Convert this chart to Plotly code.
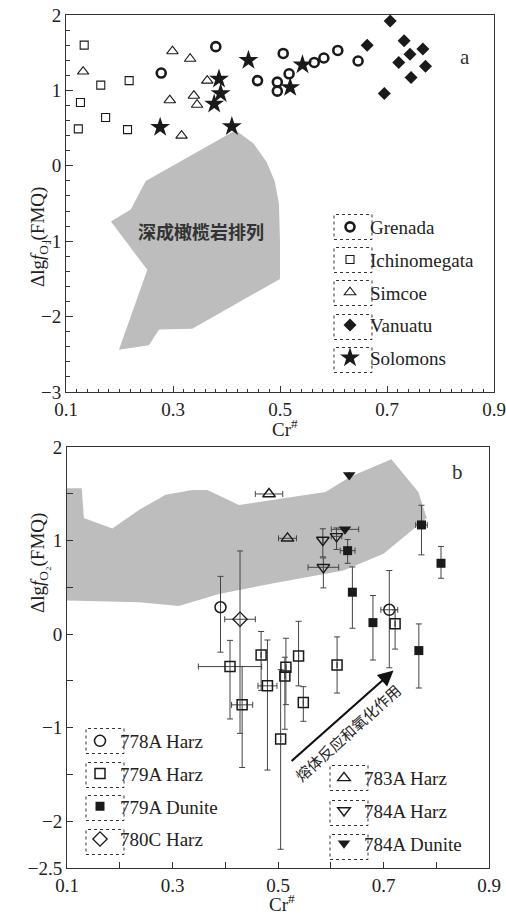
import numpy as np
import plotly.graph_objects as go

W, H = 506, 917
SERIF = "Liberation Serif, Times New Roman, serif"
CJK = "Noto Sans CJK SC"
GRAY = "#bdbdbd"
INK = "#1a1a1a"
ERR = "#444444"

# ---------------- Panel a data ----------------
grenada_cr = [0.380, 0.278, 0.458, 0.495, 0.495, 0.517, 0.506, 0.564, 0.582, 0.608, 0.646]
grenada_fo2 = [1.58, 1.23, 1.13, 1.11, 0.99, 1.22, 1.49, 1.37, 1.43, 1.53, 1.39]
ichi_cr = [0.134, 0.165, 0.218, 0.127, 0.174, 0.123, 0.215]
ichi_fo2 = [1.60, 1.07, 1.13, 0.84, 0.64, 0.49, 0.48]
simcoe_cr = [0.132, 0.299, 0.332, 0.364, 0.294, 0.339, 0.345, 0.316]
simcoe_fo2 = [1.25, 1.52, 1.42, 1.13, 0.87, 0.93, 0.81, 0.40]
vanuatu_cr = [0.706, 0.663, 0.732, 0.743, 0.767, 0.722, 0.772, 0.745, 0.695]
vanuatu_fo2 = [1.92, 1.60, 1.66, 1.48, 1.55, 1.37, 1.32, 1.17, 0.96]
solomons_cr = [0.276, 0.386, 0.389, 0.377, 0.410, 0.441, 0.519, 0.542]
solomons_fo2 = [0.51, 1.15, 0.96, 0.82, 0.52, 1.40, 1.04, 1.34]

abyssal_cr = [0.417, 0.45, 0.475, 0.49, 0.498, 0.5, 0.5, 0.336, 0.274, 0.255, 0.199,
              0.252, 0.184, 0.221, 0.249, 0.417]
abyssal_fo2 = [0.47, 0.3, 0.05, -0.2, -0.5, -1.0, -1.5, -2.16, -2.17, -2.38, -2.44,
               -1.38, -0.74, -0.58, -0.2, 0.47]
abyssal_label = "深成橄榄岩排列"

# ---------------- Panel b data ----------------
band_cr = [0.1, 0.128, 0.132, 0.186, 0.237, 0.287, 0.338, 0.366, 0.426, 0.59, 0.636, 0.715,
           0.766, 0.782, 0.70, 0.624, 0.489, 0.388, 0.312, 0.237, 0.1]
band_fo2 = [1.56, 1.56, 1.24, 1.13, 1.33, 1.49, 1.54, 1.54, 1.38, 1.52, 1.68, 1.87,
            1.52, 1.24, 0.86, 0.68, 0.54, 0.43, 0.30, 0.34, 0.36]

h778_cr = [0.391, 0.711]
h778_fo2 = [0.287, 0.26]
h778_up = [0.33, 0.42]
h778_dn = [0.48, 0.62]
h778_xe = [0.0, 0.016]

h779_cr = [0.409, 0.432, 0.468, 0.480, 0.515, 0.513, 0.505, 0.539, 0.548, 0.612, 0.722]
h779_fo2 = [-0.347, -0.756, -0.222, -0.553, -0.354, -0.447, -1.12, -0.233, -0.732, -0.33, 0.11]
h779_up = [0.28, 0.41, 0.25, 0.49, 0.31, 0.20, 0.74, 0.37, 0.17, 0.30, 0.15]
h779_dn = [0.56, 0.67, 0.38, 0.90, 0.40, 0.57, 1.18, 0.32, 0.20, 0.30, 0.27]
h779_xe = [0.06, 0.02, 0.0, 0.018, 0.0, 0.0, 0.0, 0.0, 0.0, 0.0, 0.0]

d779_cr = [0.772, 0.809, 0.632, 0.641, 0.680, 0.767]
d779_fo2 = [1.167, 0.757, 0.892, 0.448, 0.123, -0.176]
d779_up = [0.21, 0.18, 0.12, 0.27, 0.29, 0.285]
d779_dn = [0.32, 0.16, 0.135, 0.385, 0.40, 0.40]
d779_xe = [0.011, 0.0, 0.014, 0.0, 0.0, 0.0]

h780_cr = [0.428]
h780_fo2 = [0.159]
h780_up = [0.73]
h780_dn = [1.22]
h780_xe = [0.029]

h783_cr = [0.483, 0.518]
h783_fo2 = [1.498, 1.024]
h783_xe = [0.026, 0.017]

h784_cr = [0.585, 0.611, 0.586]
h784_fo2 = [1.006, 1.045, 0.714]
h784_up = [0.12, 0.09, 0.10]
h784_dn = [0.18, 0.14, 0.22]
h784_xe = [0.0, 0.01, 0.029]

d784_cr = [0.627, 0.635]
d784_fo2 = [1.12, 1.70]
d784_xe = [0.026, 0.0]

trend_start = [0.523, -1.37]
trend_end = [0.719, -0.39]
trend_label = "熔体反应和氧化作用"


def px_x(p):
    return p / W


def px_y(p):
    return 1 - p / H


fig = go.Figure()

# ---------- panel a ----------
fig.add_trace(go.Scatter(x=abyssal_cr, y=abyssal_fo2, xaxis="x", yaxis="y", mode="lines",
                         fill="toself", fillcolor=GRAY, line=dict(width=0),
                         showlegend=False, hoverinfo="skip"))


def pa(x, y, name, symbol, size, lw):
    fig.add_trace(go.Scatter(
        x=x, y=y, xaxis="x", yaxis="y", mode="markers", name=name,
        legend="legend", legendgroup="a_" + name,
        marker=dict(symbol=symbol, size=size, color=INK,
                    line=dict(width=lw, color=INK))))


pa(grenada_cr, grenada_fo2, "Grenada", "circle-open", 9, 2.6)
pa(ichi_cr, ichi_fo2, "Ichinomegata", "square-open", 8, 1.1)
pa(simcoe_cr, simcoe_fo2, "Simcoe", "triangle-up-open", 10, 1.1)
pa(vanuatu_cr, vanuatu_fo2, "Vanuatu", "diamond", 10, 0)
pa(solomons_cr, solomons_fo2, "Solomons", "star", 15, 0)


# ---------- panel b ----------
fig.add_trace(go.Scatter(x=band_cr, y=band_fo2, xaxis="x2", yaxis="y2", mode="lines",
                         fill="toself", fillcolor=GRAY, line=dict(width=0),
                         showlegend=False, hoverinfo="skip"))


def pb(x, y, name, symbol, size, lw, leg, up=None, dn=None, xe=None):
    kw = {}
    if up is not None:
        kw["error_y"] = dict(type="data", symmetric=False, array=up, arrayminus=dn,
                             color=ERR, thickness=1, width=3)
    if xe is not None:
        kw["error_x"] = dict(type="data", array=xe, color=ERR, thickness=1, width=3)
    fig.add_trace(go.Scatter(
        x=x, y=y, xaxis="x2", yaxis="y2", mode="markers", name=name,
        legend=leg, legendgroup="b_" + name,
        marker=dict(symbol=symbol, size=size, color=INK, line=dict(width=lw, color=INK)),
        **kw))


pb(h778_cr, h778_fo2, "778A Harz", "circle-open", 11, 1.5, "legend2", h778_up, h778_dn, h778_xe)
pb(h779_cr, h779_fo2, "779A Harz", "square-open", 10, 1.5, "legend2", h779_up, h779_dn, h779_xe)
pb(d779_cr, d779_fo2, "779A Dunite", "square", 9, 0, "legend2", d779_up, d779_dn, d779_xe)
pb(h780_cr, h780_fo2, "780C Harz", "diamond-open", 11, 1.3, "legend2", h780_up, h780_dn, h780_xe)
pb(h783_cr, h783_fo2, "783A Harz", "triangle-up-open", 11, 1.4, "legend3", None, None, h783_xe)
pb(h784_cr, h784_fo2, "784A Harz", "triangle-down-open", 11, 1.4, "legend3", h784_up, h784_dn, h784_xe)
pb(d784_cr, d784_fo2, "784A Dunite", "triangle-down", 11, 0, "legend3", None, None, d784_xe)

# ---------- axes ----------
tickfont = dict(family=SERIF, size=19, color="#222")
common = dict(showline=True, linecolor="#333", linewidth=1, mirror=True, showgrid=False,
              zeroline=False, ticks="inside", tickcolor="#333", automargin=False,
              tickfont=tickfont, ticklabeloverflow="allow")

odd = [0.1, 0.3, 0.5, 0.7, 0.9]
fig.update_layout(
    xaxis=dict(domain=[px_x(66), px_x(494)], anchor="y", range=[0.1, 0.9],
               tickvals=odd, ticktext=[f"{v:.1f}" for v in odd], ticklen=6,
               minor=dict(tickvals=list(np.round(np.arange(0.1, 0.901, 0.02), 2)),
                          ticks="inside", ticklen=3, tickcolor="#333"),
               **common),
    yaxis=dict(domain=[px_y(392), px_y(15)], anchor="x", range=[-3, 2],
               tickvals=[-3, -2, -1, 0, 1, 2],
               ticktext=["\u22123", "\u22122", "\u22121", "0", "1", "2"], ticklen=7,
               minor=dict(tickvals=list(np.round(np.arange(-3, 2.001, 0.2), 2)),
                          ticks="inside", ticklen=4, tickcolor="#333"),
               **common),
    xaxis2=dict(domain=[px_x(67), px_x(489)], anchor="y2", range=[0.1, 0.9],
                tickvals=odd, ticktext=[f"{v:.1f}" for v in odd], ticklen=6,
                minor=dict(tickvals=[0.2, 0.4, 0.6, 0.8], ticks="inside", ticklen=6,
                           tickcolor="#333"),
                **common),
    yaxis2=dict(domain=[px_y(868), px_y(447)], anchor="x2", range=[-2.5, 2],
                tickvals=[-2.5, -2, -1, 0, 1, 2],
                ticktext=["\u22122.5", "\u22122", "\u22121", "0", "1", "2"],
                ticklen=6,
                minor=dict(tickvals=[-1.5, -0.5, 0.5, 1.5], ticks="inside", ticklen=6,
                           tickcolor="#333"),
                **common),
)

legfont = dict(family=SERIF, size=19, color="#222")
legcommon = dict(xanchor="left", yanchor="top", font=legfont, bgcolor="rgba(0,0,0,0)",
                 traceorder="grouped", tracegroupgap=5, itemwidth=30, borderwidth=0)
legA = [227, 260, 293, 327, 360]
legB1 = [741, 775, 808, 842]
legB2 = [778, 813, 847]
fig.update_layout(
    legend=dict(x=px_x(330), y=px_y(legA[0] - 19), **legcommon),
    legend2=dict(x=px_x(80), y=px_y(legB1[0] - 19), **legcommon),
    legend3=dict(x=px_x(324), y=px_y(legB2[0] - 19), **legcommon),
)

shapes = []
for cx, centers in [(353, legA), (105, legB1), (349, legB2)]:
    for cy in centers:
        shapes.append(dict(type="rect", xref="paper", yref="paper",
                           x0=px_x(cx - 19), x1=px_x(cx + 19),
                           y0=px_y(cy + 12.5), y1=px_y(cy - 12.5),
                           line=dict(color="#333", width=1, dash="dot")))
fig.update_layout(shapes=shapes)

ann = [
    dict(text="a", x=px_x(472), y=px_y(43), xref="paper", yref="paper", showarrow=False,
         font=dict(family=SERIF, size=21, color="#333")),
    dict(text="b", x=px_x(465), y=px_y(472), xref="paper", yref="paper", showarrow=False,
         font=dict(family=SERIF, size=21, color="#333")),
    dict(text="Cr<sup>#</sup>", x=px_x(285), y=px_y(442), yanchor="bottom",
         xref="paper", yref="paper",
         showarrow=False, font=dict(family=SERIF, size=19, color="#222")),
    dict(text="Cr<sup>#</sup>", x=px_x(282), y=px_y(917), yanchor="bottom",
         xref="paper", yref="paper",
         showarrow=False, font=dict(family=SERIF, size=19, color="#222")),
    dict(text="Δlg<i>f</i><sub>O₂</sub>(FMQ)", x=px_x(25), y=px_y(185), xref="paper",
         yref="paper", showarrow=False, textangle=-90,
         font=dict(family=SERIF, size=19, color="#222")),
    dict(text="Δlg<i>f</i><sub>O₂</sub>(FMQ)", x=px_x(25), y=px_y(615), xref="paper",
         yref="paper", showarrow=False, textangle=-90,
         font=dict(family=SERIF, size=19, color="#222")),
    dict(text="<b>" + abyssal_label + "</b>", x=0.352, y=-0.87, xref="x", yref="y",
         showarrow=False, font=dict(family=CJK, size=18, color="#333")),
    dict(x=trend_end[0], y=trend_end[1], ax=trend_start[0], ay=trend_start[1],
         xref="x2", yref="y2", axref="x2", ayref="y2", text="", showarrow=True,
         arrowhead=2, arrowsize=1.4, arrowwidth=2.2, arrowcolor="#111"),
    dict(text=trend_label, x=0.632, y=-1.05, xref="x2", yref="y2", showarrow=False,
         textangle=-42, font=dict(family=CJK, size=15, color="#222")),
]
fig.update_layout(annotations=ann)

fig.update_layout(width=W, height=H, margin=dict(l=0, r=0, t=0, b=0),
                  paper_bgcolor="white", plot_bgcolor="white")

fig.write_html("out.html", config={"displayModeBar": False},
               post_script="document.body.style.margin='0';"
                           "document.body.style.overflow='hidden';")
